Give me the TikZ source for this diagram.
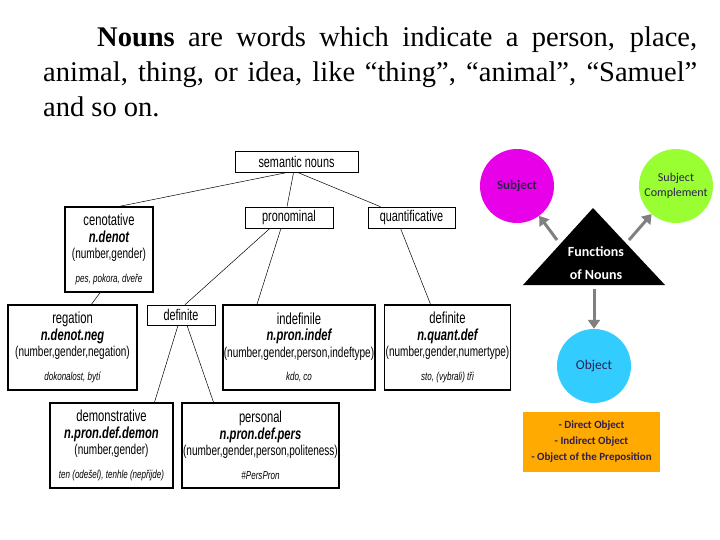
\documentclass[tikz,border=0pt]{standalone}
\usepackage{fontspec}
\setmainfont{Liberation Serif}
\newfontfamily\treefont[FakeStretch=0.7]{Liberation Sans}
\newfontfamily\fnfont{Carlito}
\usepackage{xcolor}
\usepackage{tikz}
\usetikzlibrary{arrows.meta}

\definecolor{subjmag}{RGB}{232,0,232}
\definecolor{compgreen}{RGB}{153,255,51}
\definecolor{objcyan}{RGB}{51,204,255}
\definecolor{listorange}{RGB}{255,170,0}
\definecolor{arrowgray}{RGB}{128,128,128}
\definecolor{fntext}{RGB}{45,30,80}

\begin{document}
\begin{tikzpicture}[x=1pt,y=-1pt,
  catbox/.style={draw,line width=0.6pt,minimum height=21pt,inner sep=1pt,font=\treefont\fontsize{15.5}{16}\selectfont},
  leafbox/.style={draw,line width=1.5pt,minimum height=85pt,inner sep=1pt,align=center,font=\treefont\fontsize{14.3}{16.5}\selectfont},
  branch/.style={line width=0.5pt},
  fncircle/.style={circle,minimum size=74pt,inner sep=0pt,align=center,text=fntext,font=\fnfont\fontsize{12}{15}\selectfont},
  fnarrow/.style={draw=arrowgray,line width=3pt,-{Triangle[length=9pt,width=12pt]}},
  listbox/.style={fill=listorange,minimum width=137pt,minimum height=60pt,align=center,text=fntext,font=\fnfont\bfseries\fontsize{11}{16}\selectfont}]
\useasboundingbox (0,0) rectangle (720,540);

\node[anchor=north west,inner sep=0pt,text width=654pt,align=justify,font=\fontsize{28.5}{35}\selectfont] (intro) at (43,27)
  {\hspace*{54pt}\textbf{Nouns} are words which indicate a person, place,\linebreak animal, thing, or idea, like “thing”, “animal”, “Samuel”\linebreak and so on.};

% tree of semantic nouns
\node[catbox,minimum width=123pt] (sem) at (296.5,162) {semantic nouns};
\node[catbox,minimum width=88pt] (pron) at (289,217.5) {pronominal};
\node[catbox,minimum width=87pt] (quant) at (411.5,217.5) {quantificative};
\node[catbox,minimum width=68pt,minimum height=20pt] (defpron) at (181,315) {definite};

\node[leafbox,minimum width=88pt] (denot) at (109,249.5)
  {{\fontsize{16}{16.5}\selectfont cenotative}\\{\fontsize{16}{16.5}\selectfont\bfseries\itshape n.denot}\\(number,gender)\\[7pt]{\fontsize{11.5}{12}\selectfont\itshape pes, pokora, dveře}};
\node[leafbox,minimum width=129pt] (neg) at (72.5,347.5)
  {{\fontsize{16}{16.5}\selectfont regation}\\{\fontsize{16}{16.5}\selectfont\bfseries\itshape n.denot.neg}\\(number,gender,negation)\\[7pt]{\fontsize{11.5}{12}\selectfont\itshape dokonalost, bytí}};
\node[leafbox,minimum width=148pt] (indef) at (299,347.5)
  {{\fontsize{16}{16.5}\selectfont indefinile}\\{\fontsize{16}{16.5}\selectfont\bfseries\itshape n.pron.indef}\\(number,gender,person,indeftype)\\[7pt]{\fontsize{11.5}{12}\selectfont\itshape kdo, co}};
\node[leafbox,minimum width=125pt] (qdef) at (447.5,347.5)
  {{\fontsize{16}{16.5}\selectfont definite}\\{\fontsize{16}{16.5}\selectfont\bfseries\itshape n.quant.def}\\(number,gender,numertype)\\[7pt]{\fontsize{11.5}{12}\selectfont\itshape sto, (vybrali) tři}};
\node[leafbox,minimum width=123pt] (demon) at (111.5,445.5)
  {{\fontsize{16}{16.5}\selectfont demonstrative}\\{\fontsize{16}{16.5}\selectfont\bfseries\itshape n.pron.def.demon}\\(number,gender)\\[7pt]{\fontsize{11.5}{12}\selectfont\itshape ten (odešel), tenhle (nepřijde)}};
\node[leafbox,minimum width=155pt] (pers) at (260.5,445.5)
  {{\fontsize{16}{16.5}\selectfont personal}\\{\fontsize{16}{16.5}\selectfont\bfseries\itshape n.pron.def.pers}\\(number,gender,person,politeness)\\[7pt]{\fontsize{11.5}{12}\selectfont\itshape \#PersPron}};

\draw[branch] ([xshift=-11pt]sem.south) -- ([xshift=11pt]denot.north);
\draw[branch] ([xshift=-3pt]sem.south) -- ([xshift=-2pt]pron.north);
\draw[branch] ([xshift=2pt]sem.south) -- ([xshift=-31pt]quant.north);
\draw[branch] ([xshift=-9pt]denot.south) -- ([xshift=19pt]neg.north);
\draw[branch] ([xshift=-19pt]pron.south) -- ([xshift=4pt]defpron.north);
\draw[branch] ([xshift=-8pt]pron.south) -- ([xshift=-42pt]indef.north);
\draw[branch] ([xshift=-11pt]quant.south) -- ([xshift=-17pt]qdef.north);
\draw[branch] ([xshift=-3pt]defpron.south) -- ([xshift=43pt]demon.north);
\draw[branch] ([xshift=6pt]defpron.south) -- ([xshift=-47pt]pers.north);

% functions of nouns
\node[fncircle,fill=subjmag,font=\fnfont\bfseries\fontsize{13}{15}\selectfont] (subj) at (517,186) {Subject};
\node[fncircle,fill=compgreen] (scomp) at (676,186) {Subject\\Complement};
\node[fncircle,fill=objcyan,font=\fnfont\fontsize{13.5}{15}\selectfont] (obj) at (594,366) {Object};
\coordinate (apex) at (593,208);
\coordinate (base-l) at (523,285);
\coordinate (base-r) at (665,285);
\fill[black] (apex) -- (base-r) -- (base-l) -- cycle;
\node[text=white,align=center,font=\fnfont\bfseries\fontsize{14}{23}\selectfont] (fn) at (596,263) {Functions\\of Nouns};
\coordinate (tri-l) at (557,240);
\coordinate (tri-r) at (629,240);
\coordinate (tri-b) at (594,289);
\draw[fnarrow] (tri-l) -- (subj);
\draw[fnarrow] (tri-r) -- (scomp);
\draw[fnarrow] (tri-b) -- (obj);
%\draw[fnarrow] (fn.south) -- (obj.north);
\node[listbox] (uses) at (591.5,442) {- Direct Object\\- Indirect Object\\- Object of the Preposition};
\end{tikzpicture}
\end{document}
